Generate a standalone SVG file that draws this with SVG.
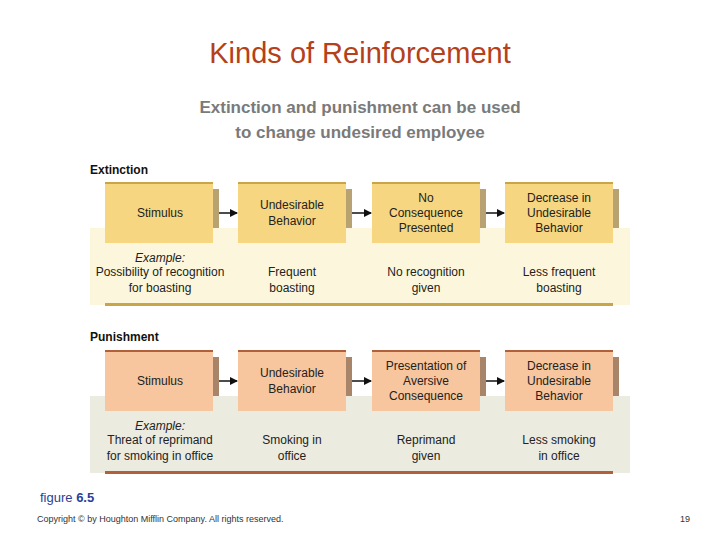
<svg xmlns="http://www.w3.org/2000/svg" width="720" height="540" viewBox="0 0 720 540">
<style>
text{font-family:"Liberation Sans",Arial,sans-serif;}
.t{font-size:12px;fill:#222;text-anchor:middle}
.h{font-size:12px;font-weight:bold;fill:#111}
.by{fill:#f6d680}.sy{fill:#b8a272}
.bp{fill:#f7c69e}.sp{fill:#a88468}
</style>
<defs><marker id="a" markerWidth="8" markerHeight="8" refX="7" refY="4" orient="auto" markerUnits="userSpaceOnUse"><path d="M0,0L8,4L0,8z" fill="#111"/></marker></defs>
<rect width="720" height="540" fill="#fff"/>
<text x="360" y="63" font-size="29" fill="#b5401a" text-anchor="middle">Kinds of Reinforcement</text>
<text x="360" y="113" font-size="17" font-weight="bold" fill="#7a7a7a" text-anchor="middle">Extinction and punishment can be used</text>
<text x="360" y="138" font-size="17" font-weight="bold" fill="#7a7a7a" text-anchor="middle">to change undesired employee</text>
<text x="90" y="174" class="h">Extinction</text>
<rect x="90" y="228" width="540" height="77" fill="#fcf7dc"/>
<rect x="105" y="303" width="508" height="3" fill="#c9a448"/>
<g id="e1"><rect x="213" y="189" width="6" height="39" class="sy"/><rect x="105" y="183" width="108" height="60" class="by"/><rect x="105" y="182" width="108" height="2" fill="#c9a448"/><text x="160" y="217" class="t">Stimulus</text></g>
<g id="e2"><rect x="346" y="189" width="6" height="39" class="sy"/><rect x="238" y="183" width="108" height="60" class="by"/><rect x="238" y="182" width="108" height="2" fill="#c9a448"/><text x="292" y="209" class="t">Undesirable</text><text x="292" y="225" class="t">Behavior</text></g>
<g id="e3"><rect x="480" y="189" width="6" height="39" class="sy"/><rect x="372" y="183" width="108" height="60" class="by"/><rect x="372" y="182" width="108" height="2" fill="#c9a448"/><text x="426" y="202" class="t">No</text><text x="426" y="217" class="t">Consequence</text><text x="426" y="232" class="t">Presented</text></g>
<g id="e4"><rect x="613" y="189" width="6" height="39" class="sy"/><rect x="505" y="183" width="108" height="60" class="by"/><rect x="505" y="182" width="108" height="2" fill="#c9a448"/><text x="559" y="202" class="t">Decrease in</text><text x="559" y="217" class="t">Undesirable</text><text x="559" y="232" class="t">Behavior</text></g>
<text x="160" y="262" class="t" font-style="italic">Example:</text>
<text x="160" y="276" class="t">Possibility of recognition</text><text x="160" y="292" class="t">for boasting</text>
<text x="292" y="276" class="t">Frequent</text><text x="292" y="292" class="t">boasting</text>
<text x="426" y="276" class="t">No recognition</text><text x="426" y="292" class="t">given</text>
<text x="559" y="276" class="t">Less frequent</text><text x="559" y="292" class="t">boasting</text>
<text x="90" y="341" class="h">Punishment</text>
<rect x="90" y="396" width="540" height="77" fill="#ecebe0"/>
<rect x="105" y="471" width="508" height="3" fill="#b0603a"/>
<g id="p1"><rect x="213" y="357" width="6" height="39" class="sp"/><rect x="105" y="351" width="108" height="60" class="bp"/><rect x="105" y="350" width="108" height="2" fill="#b0603a"/><text x="160" y="385" class="t">Stimulus</text></g>
<g id="p2"><rect x="346" y="357" width="6" height="39" class="sp"/><rect x="238" y="351" width="108" height="60" class="bp"/><rect x="238" y="350" width="108" height="2" fill="#b0603a"/><text x="292" y="377" class="t">Undesirable</text><text x="292" y="393" class="t">Behavior</text></g>
<g id="p3"><rect x="480" y="357" width="6" height="39" class="sp"/><rect x="372" y="351" width="108" height="60" class="bp"/><rect x="372" y="350" width="108" height="2" fill="#b0603a"/><text x="426" y="370" class="t">Presentation of</text><text x="426" y="385" class="t">Aversive</text><text x="426" y="400" class="t">Consequence</text></g>
<g id="p4"><rect x="613" y="357" width="6" height="39" class="sp"/><rect x="505" y="351" width="108" height="60" class="bp"/><rect x="505" y="350" width="108" height="2" fill="#b0603a"/><text x="559" y="370" class="t">Decrease in</text><text x="559" y="385" class="t">Undesirable</text><text x="559" y="400" class="t">Behavior</text></g>
<text x="160" y="430" class="t" font-style="italic">Example:</text>
<text x="160" y="444" class="t">Threat of reprimand</text><text x="160" y="460" class="t">for smoking in office</text>
<text x="292" y="444" class="t">Smoking in</text><text x="292" y="460" class="t">office</text>
<text x="426" y="444" class="t">Reprimand</text><text x="426" y="460" class="t">given</text>
<text x="559" y="444" class="t">Less smoking</text><text x="559" y="460" class="t">in office</text>
<g id="connectors" stroke="#111" stroke-width="1.5" marker-end="url(#a)">
<line x1="219" y1="213" x2="237" y2="213"/><line x1="352" y1="213" x2="371" y2="213"/><line x1="486" y1="213" x2="504" y2="213"/>
<line x1="219" y1="381" x2="237" y2="381"/><line x1="352" y1="381" x2="371" y2="381"/><line x1="486" y1="381" x2="504" y2="381"/>
</g>
<text x="40" y="502" font-size="13" fill="#2a3f9a">figure <tspan font-weight="bold">6.5</tspan></text>
<text x="37" y="522" font-size="9" fill="#333">Copyright © by Houghton Mifflin Company. All rights reserved.</text>
<text x="690" y="522" font-size="9" fill="#333" text-anchor="end">19</text>
</svg>
